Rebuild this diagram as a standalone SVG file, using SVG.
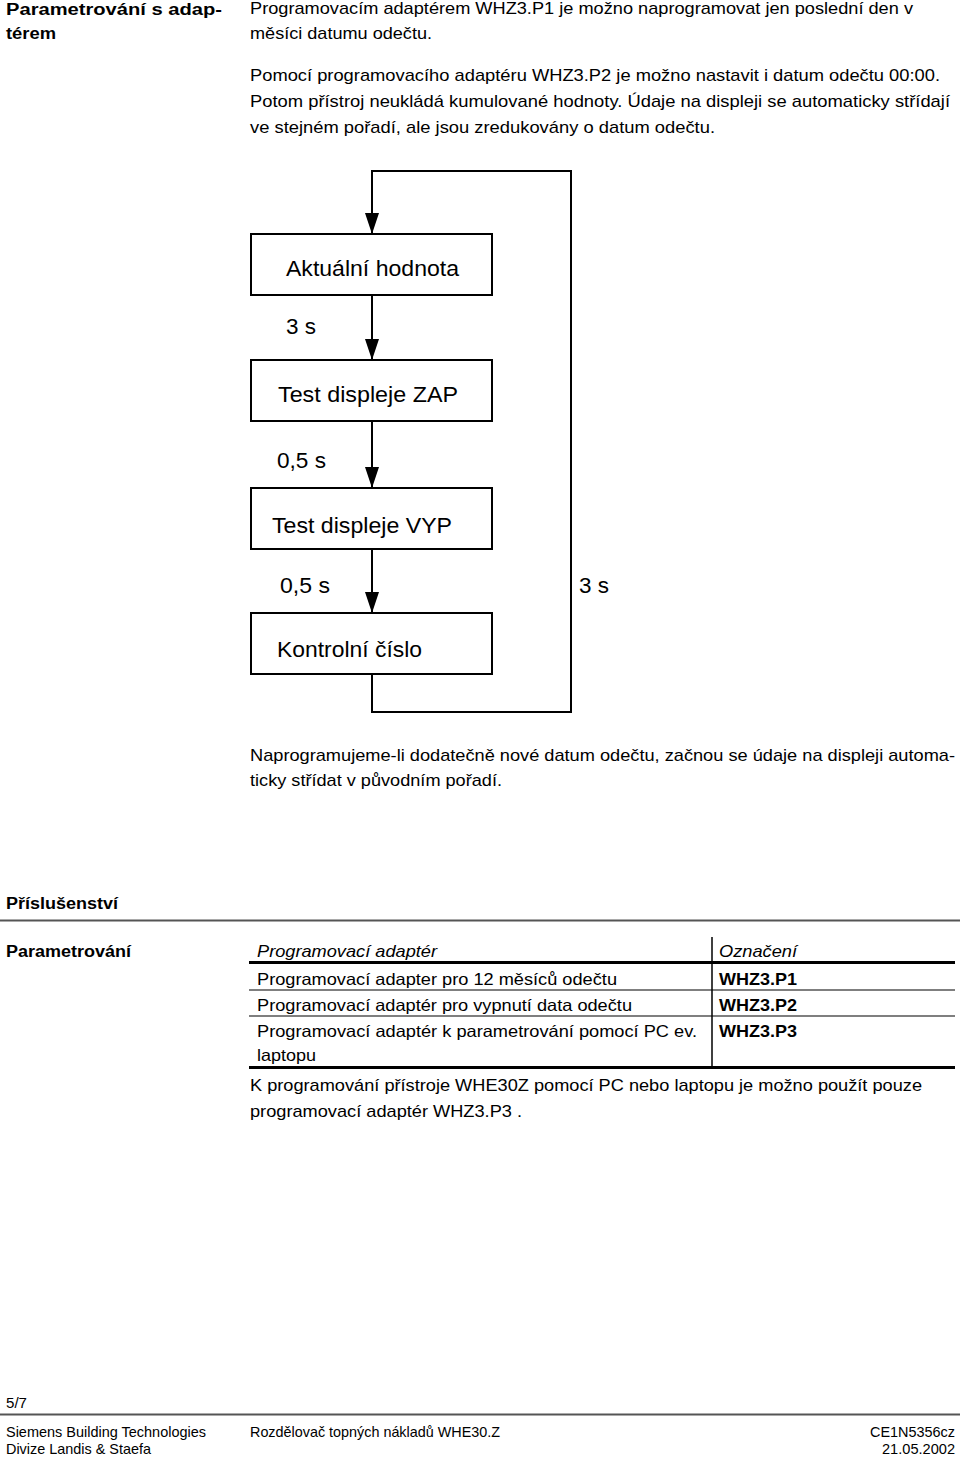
<svg xmlns="http://www.w3.org/2000/svg" width="960" height="1457" viewBox="0 0 960 1457">
<style>
.t{font-family:"Liberation Sans Narrow","Liberation Sans",Arial,sans-serif;font-size:17px;fill:#000}
.b{font-family:"Liberation Sans",Arial,sans-serif;font-size:16px;font-weight:bold;fill:#000}
.r{font-family:"Liberation Sans",Arial,sans-serif;font-size:16.5px;fill:#000}
.i{font-style:italic}
.bb{font-weight:bold}
.f{font-family:"Liberation Sans",Arial,sans-serif;font-size:22px;fill:#000}
.ft{font-family:"Liberation Sans",Arial,sans-serif;font-size:14.5px;fill:#000}
.box{fill:#fff;stroke:#000;stroke-width:2}
.ln{fill:none;stroke:#000;stroke-width:2}
</style>
<defs>
<marker id="ah" markerUnits="userSpaceOnUse" markerWidth="21" markerHeight="14" refX="21" refY="7" orient="auto" viewBox="0 0 21 14">
<path d="M0,0 L21,7 L0,14 Z" fill="#000"/>
</marker>
</defs>
<rect width="960" height="1457" fill="#fff"/>

<g id="intro">
<text class="b" x="6" y="15" textLength="216" lengthAdjust="spacingAndGlyphs">Parametrování s adap-</text>
<text class="b" x="6" y="39" textLength="50" lengthAdjust="spacingAndGlyphs">térem</text>
<text class="t" x="250" y="14" textLength="663" lengthAdjust="spacingAndGlyphs">Programovacím adaptérem WHZ3.P1 je možno naprogramovat jen poslední den v</text>
<text class="t" x="250" y="39" textLength="182" lengthAdjust="spacingAndGlyphs">měsíci datumu odečtu.</text>
<text class="t" x="250" y="81" textLength="690" lengthAdjust="spacingAndGlyphs">Pomocí programovacího adaptéru WHZ3.P2 je možno nastavit i datum odečtu  00:00.</text>
<text class="t" x="250" y="107" textLength="700" lengthAdjust="spacingAndGlyphs">Potom přístroj neukládá  kumulované hodnoty. Údaje na displeji se automaticky střídají</text>
<text class="t" x="250" y="133" textLength="465" lengthAdjust="spacingAndGlyphs">ve stejném pořadí, ale jsou zredukovány o datum odečtu.</text>
</g>

<g id="connectors">
<path class="ln" d="M372,295 L372,360" marker-end="url(#ah)"/>
<path class="ln" d="M372,421 L372,488" marker-end="url(#ah)"/>
<path class="ln" d="M372,549 L372,613" marker-end="url(#ah)"/>
<path class="ln" d="M372,674 L372,712 L571,712 L571,171 L372,171 L372,234" marker-end="url(#ah)"/>
<text class="f" x="286" y="334" textLength="30" lengthAdjust="spacingAndGlyphs">3 s</text>
<text class="f" x="277" y="468" textLength="49" lengthAdjust="spacingAndGlyphs">0,5 s</text>
<text class="f" x="280" y="593" textLength="50" lengthAdjust="spacingAndGlyphs">0,5 s</text>
<text class="f" x="579" y="593" textLength="30" lengthAdjust="spacingAndGlyphs">3 s</text>
</g>

<g id="node-aktualni">
<rect class="box" x="251" y="234" width="241" height="61"/>
<text class="f" x="286" y="276" textLength="173" lengthAdjust="spacingAndGlyphs">Aktuální hodnota</text>
</g>
<g id="node-zap">
<rect class="box" x="251" y="360" width="241" height="61"/>
<text class="f" x="278" y="402" textLength="180" lengthAdjust="spacingAndGlyphs">Test displeje ZAP</text>
</g>
<g id="node-vyp">
<rect class="box" x="251" y="488" width="241" height="61"/>
<text class="f" x="272" y="533" textLength="180" lengthAdjust="spacingAndGlyphs">Test displeje VYP</text>
</g>
<g id="node-kontrolni">
<rect class="box" x="251" y="613" width="241" height="61"/>
<text class="f" x="277" y="657" textLength="145" lengthAdjust="spacingAndGlyphs">Kontrolní číslo</text>
</g>

<g id="note">
<text class="t" x="250" y="761" textLength="705" lengthAdjust="spacingAndGlyphs">Naprogramujeme-li dodatečně nové datum odečtu, začnou se údaje na displeji automa-</text>
<text class="t" x="250" y="786" textLength="252" lengthAdjust="spacingAndGlyphs">ticky střídat v původním pořadí.</text>
</g>

<g id="accessories">
<text class="b" x="6" y="909" textLength="112" lengthAdjust="spacingAndGlyphs">Příslušenství</text>
<line x1="0" y1="920.5" x2="960" y2="920.5" stroke="#555" stroke-width="2"/>
<text class="b" x="6" y="957" textLength="125" lengthAdjust="spacingAndGlyphs">Parametrování</text>
</g>

<g id="table">
<line x1="712" y1="937" x2="712" y2="1067" stroke="#000" stroke-width="1.5"/>
<line x1="249" y1="962.5" x2="955" y2="962.5" stroke="#000" stroke-width="3"/>
<line x1="249" y1="990" x2="955" y2="990" stroke="#000" stroke-width="1.2"/>
<line x1="249" y1="1016" x2="955" y2="1016" stroke="#000" stroke-width="1.2"/>
<line x1="249" y1="1067.5" x2="955" y2="1067.5" stroke="#000" stroke-width="3"/>
<text class="r i" x="257" y="957" textLength="180" lengthAdjust="spacingAndGlyphs">Programovací adaptér</text>
<text class="r i" x="719" y="957" textLength="78" lengthAdjust="spacingAndGlyphs">Označení</text>
<text class="r" x="257" y="985" textLength="360" lengthAdjust="spacingAndGlyphs">Programovací adapter pro 12 měsíců odečtu</text>
<text class="r bb" x="719" y="985" textLength="78" lengthAdjust="spacingAndGlyphs">WHZ3.P1</text>
<text class="r" x="257" y="1011" textLength="375" lengthAdjust="spacingAndGlyphs">Programovací adaptér pro vypnutí data odečtu</text>
<text class="r bb" x="719" y="1011" textLength="78" lengthAdjust="spacingAndGlyphs">WHZ3.P2</text>
<text class="r" x="257" y="1037" textLength="440" lengthAdjust="spacingAndGlyphs">Programovací adaptér k parametrování pomocí PC ev.</text>
<text class="r bb" x="719" y="1037" textLength="78" lengthAdjust="spacingAndGlyphs">WHZ3.P3</text>
<text class="r" x="257" y="1061" textLength="59" lengthAdjust="spacingAndGlyphs">laptopu</text>
<text class="t" x="250" y="1091" textLength="672" lengthAdjust="spacingAndGlyphs">K programování přístroje WHE30Z pomocí PC nebo laptopu je možno použít pouze</text>
<text class="t" x="250" y="1117" textLength="272" lengthAdjust="spacingAndGlyphs">programovací adaptér WHZ3.P3 .</text>
</g>

<g id="footer">
<text class="ft" x="6" y="1408" textLength="21" lengthAdjust="spacingAndGlyphs">5/7</text>
<line x1="0" y1="1414.5" x2="960" y2="1414.5" stroke="#555" stroke-width="2"/>
<text class="ft" x="6" y="1437" textLength="200" lengthAdjust="spacingAndGlyphs">Siemens Building Technologies</text>
<text class="ft" x="6" y="1454" textLength="145" lengthAdjust="spacingAndGlyphs">Divize Landis &amp; Staefa</text>
<text class="ft" x="250" y="1437" textLength="250" lengthAdjust="spacingAndGlyphs">Rozdělovač topných nákladů WHE30.Z</text>
<text class="ft" x="955" y="1437" text-anchor="end" textLength="85" lengthAdjust="spacingAndGlyphs">CE1N5356cz</text>
<text class="ft" x="955" y="1454" text-anchor="end" textLength="73" lengthAdjust="spacingAndGlyphs">21.05.2002</text>
</g>
</svg>
